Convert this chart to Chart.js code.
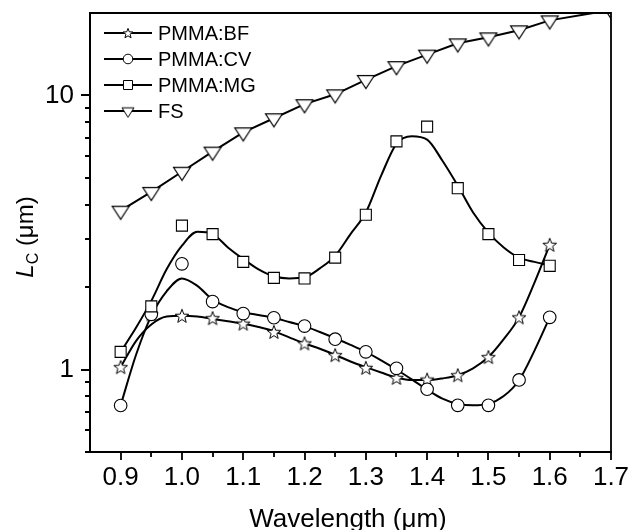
<!DOCTYPE html>
<html><head><meta charset="utf-8">
<script src="https://cdn.jsdelivr.net/npm/chart.js@4.4.1/dist/chart.umd.min.js"></script>
<style>html,body{margin:0;padding:0;background:#fff}canvas{display:block}</style>
</head><body>
<canvas id="c" width="632" height="530"></canvas>
<script>
const FONT = '"Liberation Sans", Arial, sans-serif';

// ---- data ----
const seriesNames = ['PMMA:BF', 'PMMA:CV', 'PMMA:MG', 'FS'];
const markerX = [0.9, 0.95, 1.0, 1.05, 1.1, 1.15, 1.2, 1.25, 1.3, 1.35, 1.4, 1.45, 1.5, 1.55, 1.6];
const bfValues = [1.02, 1.59, 1.57, 1.54, 1.47, 1.37, 1.245, 1.128, 1.014, 0.932, 0.919, 0.953, 1.11, 1.55, 2.85];
const cvValues = [0.739, 1.59, 2.43, 1.77, 1.60, 1.545, 1.44, 1.29, 1.16, 1.01, 0.847, 0.74, 0.74, 0.916, 1.55];
const mgValues = [1.16, 1.70, 3.35, 3.12, 2.47, 2.16, 2.15, 2.56, 3.67, 6.80, 7.70, 4.59, 3.12, 2.51, 2.39];
const fsX = [0.9, 0.95, 1.0, 1.05, 1.1, 1.15, 1.2, 1.25, 1.3, 1.35, 1.4, 1.45, 1.5, 1.55, 1.6, 1.7];
const fsValues = [3.8, 4.45, 5.27, 6.24, 7.34, 8.26, 9.3, 10.1, 11.4, 12.8, 14.1, 15.5, 16.3, 17.3, 18.8, 20.5];

// fitted curves
const curveX = [0.9, 0.925, 0.95, 0.975, 1.0, 1.025, 1.05, 1.075, 1.1, 1.125, 1.15, 1.175, 1.2, 1.225, 1.25,
                1.275, 1.3, 1.325, 1.35, 1.375, 1.4, 1.425, 1.45, 1.475, 1.5, 1.525, 1.55, 1.575, 1.6];
const bfCurve = [1.02, 1.27, 1.46, 1.56, 1.57, 1.56, 1.53, 1.50, 1.47, 1.43, 1.38, 1.31, 1.245, 1.19, 1.13,
                 1.07, 1.02, 0.975, 0.935, 0.915, 0.915, 0.928, 0.953, 1.01, 1.11, 1.29, 1.55, 2.07, 2.85];
const cvCurve = [0.74, 1.13, 1.57, 1.93, 2.15, 2.02, 1.80, 1.69, 1.62, 1.58, 1.545, 1.49, 1.44, 1.37, 1.30,
                 1.23, 1.16, 1.08, 1.00, 0.92, 0.845, 0.783, 0.749, 0.74, 0.749, 0.80, 0.914, 1.17, 1.55];
const mgCurve = [1.16, 1.42, 1.78, 2.32, 2.83, 3.18, 3.12, 2.79, 2.53, 2.32, 2.19, 2.15, 2.17, 2.34, 2.60,
                 3.12, 3.74, 5.1, 6.66, 7.1, 6.9, 5.78, 4.69, 3.74, 3.16, 2.79, 2.56, 2.47, 2.40];

// ticks
const xTicks = [0.9, 0.95, 1.0, 1.05, 1.1, 1.15, 1.2, 1.25, 1.3, 1.35, 1.4, 1.45, 1.5, 1.55, 1.6, 1.65, 1.7];
const xTickLabels = ['0.9', '1.0', '1.1', '1.2', '1.3', '1.4', '1.5', '1.6', '1.7'];
const yTicks = [0.5, 0.6, 0.7, 0.8, 0.9, 1, 2, 3, 4, 5, 6, 7, 8, 9, 10, 20];
const yTickLabels = ['1', '10'];

// ---- helpers ----
function xy(xs, ys) { return ys.map((v, i) => ({ x: xs[i], y: v })); }
function xLabel(v) { const s = v.toFixed(1); return (Math.abs(parseFloat(s) - v) < 1e-6 && xTickLabels.includes(s)) ? s : null; }
function yLabel(v) { const s = String(v); return yTickLabels.includes(s) ? s : null; }

function starImg(R, r, lw) {
  const s = Math.ceil(2 * R + lw + 2);
  const c = document.createElement('canvas'); c.width = s; c.height = s;
  const g = c.getContext('2d');
  g.translate(s / 2, s / 2 + 0.6);
  g.beginPath();
  for (let i = 0; i < 10; i++) {
    const a = -Math.PI / 2 + i * Math.PI / 5, rad = i % 2 ? r : R;
    g.lineTo(Math.cos(a) * rad, Math.sin(a) * rad);
  }
  g.closePath();
  g.fillStyle = '#fff'; g.fill();
  g.lineWidth = lw; g.strokeStyle = '#000'; g.lineJoin = 'miter'; g.stroke();
  return c;
}
function triImg(w, h, lw) {
  const pad = lw + 1;
  const H = Math.ceil(4 * h / 3 + 2 * pad), W = Math.ceil(w + 2 * pad);
  const c = document.createElement('canvas'); c.width = W; c.height = H;
  const g = c.getContext('2d');
  const cy = H / 2, cx = W / 2;
  g.beginPath();
  g.moveTo(cx - w / 2, cy - h / 3);
  g.lineTo(cx + w / 2, cy - h / 3);
  g.lineTo(cx, cy + 2 * h / 3);
  g.closePath();
  g.fillStyle = '#fff'; g.fill();
  g.lineWidth = lw; g.strokeStyle = '#000'; g.stroke();
  return c;
}
const starBig = starImg(7.2, 3.0, 1);
const starSmall = starImg(5.2, 2.2, 1);
const triBig = triImg(17, 13, 1.1);
const triSmall = triImg(12, 9.5, 1);

// ---- plugin: tick marks, frame, legend, axis titles ----
const decor = {
  id: 'decor',
  afterDraw(chart) {
    const { ctx, chartArea: a, scales: { x, y } } = chart;
    ctx.save();
    ctx.strokeStyle = '#000';
    ctx.lineWidth = 1.8;
    ctx.beginPath();
    ctx.moveTo(a.left, a.top); ctx.lineTo(a.right, a.top); ctx.lineTo(a.right, a.bottom);
    ctx.stroke();
    ctx.beginPath();
    xTicks.forEach(v => {
      const p = Math.round(x.getPixelForValue(v));
      const L = xLabel(v) ? 8 : 5;
      ctx.moveTo(p, a.bottom); ctx.lineTo(p, a.bottom + L);
    });
    yTicks.forEach(v => {
      const p = Math.round(y.getPixelForValue(v));
      if (p < a.top + 1) return;
      const L = yLabel(v) ? 9 : 5;
      ctx.moveTo(a.left, p); ctx.lineTo(a.left - L, p);
    });
    ctx.stroke();

    // legend
    const rows = [33, 59, 85, 111];
    const lx0 = 104, lx1 = 152, mx = 128, tx = 158;
    ctx.font = '20px ' + FONT;
    ctx.fillStyle = '#000';
    ctx.textBaseline = 'middle';
    ctx.textAlign = 'left';
    rows.forEach((ry, i) => {
      ctx.lineWidth = 2;
      ctx.beginPath(); ctx.moveTo(lx0, ry); ctx.lineTo(lx1, ry); ctx.stroke();
      ctx.lineWidth = 1;
      if (i === 0) ctx.drawImage(starSmall, mx - starSmall.width / 2, ry - starSmall.height / 2);
      else if (i === 1) { ctx.beginPath(); ctx.arc(mx, ry, 4.8, 0, Math.PI * 2); ctx.fillStyle = '#fff'; ctx.fill(); ctx.stroke(); }
      else if (i === 2) { ctx.beginPath(); ctx.rect(mx - 4.5, ry - 4.5, 9, 9); ctx.fillStyle = '#fff'; ctx.fill(); ctx.stroke(); }
      else ctx.drawImage(triSmall, mx - triSmall.width / 2, ry - triSmall.height / 2);
      ctx.fillStyle = '#000';
      ctx.fillText(seriesNames[i], tx, ry + 1);
    });

    // x title
    ctx.font = '26px ' + FONT;
    ctx.textAlign = 'center';
    ctx.textBaseline = 'alphabetic';
    ctx.fillText('Wavelength (\u03bcm)', 348, 527);

    // y title (italic L, subscript C)
    ctx.translate(33, 237);
    ctx.rotate(-Math.PI / 2);
    const fL = 'italic 24px ' + FONT, fC = '16px ' + FONT, fR = '24px ' + FONT;
    const rest = ' (\u03bcm)';
    ctx.font = fL; const wL = ctx.measureText('L').width;
    ctx.font = fC; const wC = ctx.measureText('C').width;
    ctx.font = fR; const wR = ctx.measureText(rest).width;
    let sx = -(wL + wC + wR) / 2;
    ctx.textAlign = 'left';
    ctx.font = fL; ctx.fillText('L', sx, 0); sx += wL;
    ctx.font = fC; ctx.fillText('C', sx, 5); sx += wC;
    ctx.font = fR; ctx.fillText(rest, sx, 0);
    ctx.restore();
  }
};

const lineBase = { showLine: true, pointRadius: 0, borderColor: '#000', borderWidth: 2,
                   cubicInterpolationMode: 'monotone', fill: false, order: 5 };

new Chart(document.getElementById('c'), {
  type: 'scatter',
  data: {
    datasets: [
      Object.assign({ label: 'BF fit', data: xy(curveX, bfCurve) }, lineBase),
      Object.assign({ label: 'CV fit', data: xy(curveX, cvCurve) }, lineBase),
      Object.assign({ label: 'MG fit', data: xy(curveX, mgCurve) }, lineBase),
      { label: seriesNames[0], data: xy(markerX, bfValues), showLine: false, pointStyle: starBig,
        pointRadius: 7, order: 3 },
      { label: seriesNames[1], data: xy(markerX, cvValues), showLine: false, pointStyle: 'circle',
        pointRadius: 6.3, pointBorderWidth: 1.1, pointBorderColor: '#000', pointBackgroundColor: '#fff', order: 2 },
      { label: seriesNames[2], data: xy(markerX, mgValues), showLine: false, pointStyle: 'rect',
        pointRadius: 7.8, pointBorderWidth: 1.1, pointBorderColor: '#000', pointBackgroundColor: '#fff', order: 1 },
      { label: seriesNames[3], data: xy(fsX, fsValues), showLine: true, tension: 0, borderColor: '#000',
        borderWidth: 2, pointStyle: triBig, pointRadius: 9, clip: 0, order: 0 }
    ]
  },
  options: {
    responsive: false,
    animation: false,
    events: [],
    layout: { padding: { top: 13, right: 21, left: 0, bottom: 0 } },
    plugins: { legend: { display: false }, tooltip: { enabled: false } },
    scales: {
      x: {
        type: 'linear', min: 0.85, max: 1.7,
        afterBuildTicks: s => { s.ticks = xTicks.map(v => ({ value: v })); },
        afterFit: s => { s.height = 78; s.paddingLeft = 0; s.paddingRight = 0; },
        grid: { display: true, drawOnChartArea: false, drawTicks: false },
        border: { display: true, color: '#000', width: 2 },
        ticks: { autoSkip: false, maxRotation: 0, padding: 10, color: '#000',
                 font: { family: FONT, size: 26 }, callback: v => xLabel(v) }
      },
      y: {
        type: 'logarithmic', min: 0.5, max: 20,
        afterBuildTicks: s => { s.ticks = yTicks.map(v => ({ value: v })); },
        afterFit: s => { s.width = 90; s.paddingTop = 0; s.paddingBottom = 0; },
        grid: { display: true, drawOnChartArea: false, drawTicks: false },
        border: { display: true, color: '#000', width: 2 },
        ticks: { autoSkip: false, padding: 16, color: '#000',
                 font: { family: FONT, size: 26 }, callback: v => yLabel(v) }
      }
    }
  },
  plugins: [decor]
});
</script>
</body></html>
